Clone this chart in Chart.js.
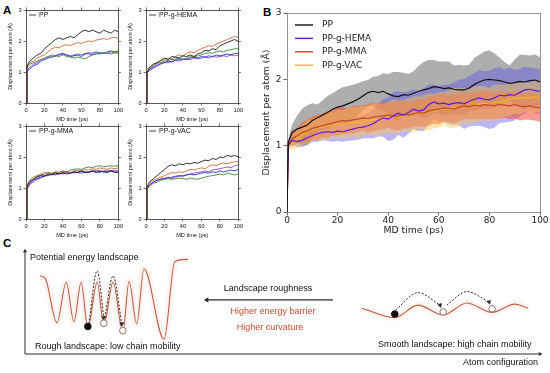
<!DOCTYPE html>
<html>
<head>
<meta charset="utf-8">
<script src="https://cdn.jsdelivr.net/npm/chart.js@4.4.0/dist/chart.umd.min.js"></script>
<style>
  body { margin: 0; width: 550px; height: 373px; background: #fff; position: relative; overflow: hidden; font-family: "Liberation Sans", Arial, sans-serif; }
  canvas { position: absolute; }
  .lbl { position: absolute; white-space: nowrap; color: #111; font-size: 9px; line-height: 10px; }
  .panel { position: absolute; font-weight: bold; font-size: 11.5px; line-height: 12px; color: #000; }
  .mid { transform: translateX(-50%); }
</style>
</head>
<body>
<div class="panel" style="left:3px;top:4px">A</div>
<div class="panel" style="left:263px;top:6px">B</div>
<div class="panel" style="left:3px;top:237px">C</div>

<canvas id="aPP" width="125" height="123" style="left:0;top:0"></canvas>
<canvas id="aHEMA" width="125" height="123" style="left:120px;top:0"></canvas>
<canvas id="aMMA" width="125" height="123" style="left:0;top:116px"></canvas>
<canvas id="aVAC" width="125" height="123" style="left:120px;top:116px"></canvas>
<canvas id="bChart" width="300" height="236" style="left:250px;top:0"></canvas>
<canvas id="cChart" width="550" height="137" style="left:0;top:236px"></canvas>

<div class="lbl" style="left:30px;top:252px">Potential energy landscape</div>
<div class="lbl" style="left:35px;top:341px">Rough landscape: low chain mobility</div>
<div class="lbl mid" style="left:268px;top:283px">Landscape roughness</div>
<div class="lbl mid" style="left:273px;top:306px;color:rgb(190,75,45)">Higher energy barrier</div>
<div class="lbl mid" style="left:270px;top:322px;color:rgb(190,75,45)">Higher curvature</div>
<div class="lbl" style="left:378px;top:339px">Smooth landscape: high chain mobility</div>
<div class="lbl" style="right:12px;top:357px">Atom configuration</div>

<script>
// ---- panel A: five runs per system, sampled in ps ----
const timeA = [0, 1, 2, 4, 8, 12, 16, 20, 24, 28, 32, 36, 40, 44, 48, 52, 56, 60, 64, 68, 72, 76, 80, 84, 88, 92, 96, 100];

const ppRun1 = [0, 1.15, 1.25, 1.35, 1.45, 1.55, 1.6, 1.75, 1.85, 1.95, 2.05, 2.1, 2.05, 2.1, 2.15, 2.1, 2.2, 2.3, 2.35, 2.3, 2.35, 2.3, 2.25, 2.35, 2.3, 2.25, 2.35, 2.3];
const ppRun2 = [0, 1.1, 1.2, 1.3, 1.35, 1.45, 1.5, 1.55, 1.65, 1.75, 1.8, 1.78, 1.85, 1.88, 1.85, 1.9, 1.95, 1.92, 1.97, 2.0, 1.98, 2.03, 2.05, 2.08, 2.05, 2.1, 2.12, 2.08];
const ppRun3 = [0, 1.1, 1.2, 1.25, 1.3, 1.35, 1.4, 1.45, 1.5, 1.48, 1.52, 1.5, 1.55, 1.5, 1.48, 1.45, 1.48, 1.45, 1.42, 1.5, 1.55, 1.58, 1.6, 1.62, 1.6, 1.65, 1.62, 1.65];
const ppRun4 = [0, 1.0, 1.05, 1.1, 1.2, 1.25, 1.35, 1.4, 1.45, 1.48, 1.52, 1.58, 1.6, 1.55, 1.5, 1.52, 1.55, 1.5, 1.58, 1.62, 1.6, 1.65, 1.62, 1.6, 1.65, 1.68, 1.65, 1.68];
const ppRun5 = [0, 1.05, 1.1, 1.15, 1.25, 1.3, 1.4, 1.45, 1.5, 1.55, 1.52, 1.55, 1.58, 1.55, 1.52, 1.55, 1.58, 1.55, 1.6, 1.58, 1.55, 1.6, 1.58, 1.62, 1.6, 1.58, 1.62, 1.6];

const hemaRun1 = [0, 1.0, 1.05, 1.15, 1.25, 1.3, 1.38, 1.45, 1.4, 1.5, 1.48, 1.45, 1.52, 1.5, 1.55, 1.5, 1.58, 1.62, 1.7, 1.68, 1.75, 1.72, 1.85, 1.9, 1.95, 2.0, 2.05, 1.98];
const hemaRun2 = [0, 1.0, 1.05, 1.15, 1.25, 1.3, 1.35, 1.4, 1.45, 1.42, 1.5, 1.55, 1.52, 1.6, 1.65, 1.62, 1.7, 1.75, 1.8, 1.85, 1.82, 1.9, 1.95, 2.0, 2.05, 2.1, 2.15, 2.12];
const hemaRun3 = [0, 1.0, 1.05, 1.1, 1.2, 1.28, 1.3, 1.35, 1.38, 1.4, 1.42, 1.45, 1.4, 1.45, 1.5, 1.48, 1.52, 1.55, 1.6, 1.62, 1.6, 1.65, 1.68, 1.65, 1.7, 1.72, 1.75, 1.75];
const hemaRun4 = [0, 0.95, 1.0, 1.1, 1.15, 1.22, 1.28, 1.3, 1.35, 1.32, 1.38, 1.4, 1.42, 1.4, 1.45, 1.48, 1.45, 1.5, 1.48, 1.52, 1.5, 1.55, 1.52, 1.55, 1.58, 1.55, 1.6, 1.6];
const hemaRun5 = [0, 0.95, 1.0, 1.05, 1.12, 1.2, 1.25, 1.3, 1.3, 1.35, 1.38, 1.35, 1.4, 1.42, 1.4, 1.45, 1.42, 1.45, 1.48, 1.45, 1.5, 1.48, 1.5, 1.52, 1.5, 1.55, 1.52, 1.55];

const mmaRun1 = [0, 1.0, 1.1, 1.2, 1.28, 1.35, 1.4, 1.38, 1.45, 1.42, 1.48, 1.45, 1.5, 1.45, 1.48, 1.52, 1.5, 1.55, 1.5, 1.52, 1.55, 1.5, 1.55, 1.52, 1.5, 1.55, 1.52, 1.5];
const mmaRun2 = [0, 1.05, 1.15, 1.25, 1.35, 1.4, 1.45, 1.5, 1.48, 1.45, 1.52, 1.5, 1.55, 1.52, 1.5, 1.55, 1.58, 1.55, 1.6, 1.58, 1.62, 1.6, 1.65, 1.62, 1.6, 1.65, 1.62, 1.65];
const mmaRun3 = [0, 1.0, 1.1, 1.2, 1.3, 1.38, 1.42, 1.45, 1.5, 1.48, 1.52, 1.5, 1.55, 1.52, 1.58, 1.6, 1.62, 1.6, 1.65, 1.68, 1.65, 1.7, 1.72, 1.68, 1.7, 1.72, 1.7, 1.72];
const mmaRun4 = [0, 0.95, 1.05, 1.15, 1.25, 1.3, 1.35, 1.4, 1.42, 1.45, 1.42, 1.48, 1.45, 1.5, 1.48, 1.52, 1.5, 1.48, 1.52, 1.5, 1.55, 1.52, 1.5, 1.55, 1.52, 1.55, 1.5, 1.52];
const mmaRun5 = [0, 0.95, 1.0, 1.1, 1.2, 1.28, 1.32, 1.38, 1.4, 1.45, 1.48, 1.45, 1.5, 1.52, 1.5, 1.48, 1.52, 1.55, 1.52, 1.5, 1.55, 1.58, 1.55, 1.52, 1.58, 1.55, 1.58, 1.55];

const vacRun1 = [0, 1.0, 1.1, 1.2, 1.3, 1.4, 1.5, 1.6, 1.7, 1.75, 1.72, 1.78, 1.75, 1.8, 1.78, 1.82, 1.8, 1.85, 1.9, 1.88, 1.95, 1.92, 2.0, 1.98, 2.05, 2.02, 2.05, 2.0];
const vacRun2 = [0, 1.0, 1.05, 1.15, 1.25, 1.3, 1.35, 1.4, 1.45, 1.5, 1.48, 1.52, 1.5, 1.55, 1.6, 1.58, 1.62, 1.65, 1.62, 1.7, 1.75, 1.72, 1.78, 1.8, 1.78, 1.82, 1.85, 1.85];
const vacRun3 = [0, 0.95, 1.0, 1.08, 1.15, 1.2, 1.25, 1.28, 1.3, 1.28, 1.3, 1.32, 1.3, 1.28, 1.32, 1.3, 1.28, 1.32, 1.35, 1.38, 1.4, 1.42, 1.45, 1.42, 1.48, 1.45, 1.42, 1.45];
const vacRun4 = [0, 0.95, 1.0, 1.1, 1.18, 1.25, 1.28, 1.3, 1.32, 1.35, 1.38, 1.4, 1.38, 1.42, 1.45, 1.42, 1.45, 1.48, 1.5, 1.48, 1.52, 1.5, 1.55, 1.52, 1.55, 1.58, 1.55, 1.6];
const vacRun5 = [0, 0.95, 1.0, 1.1, 1.2, 1.25, 1.3, 1.32, 1.35, 1.3, 1.35, 1.38, 1.4, 1.42, 1.45, 1.48, 1.5, 1.52, 1.55, 1.52, 1.58, 1.6, 1.62, 1.65, 1.68, 1.65, 1.72, 1.75];

// ---- panel B: mean and standard deviation per system ----
const timeB = [0, 0.5, 2, 4, 6, 8, 10, 12, 14, 16, 18, 20, 22, 24, 26, 28, 30, 32, 34, 36, 38, 40, 42, 44, 46, 48, 50, 52, 54, 56, 58, 60, 62, 64, 66, 68, 70, 72, 74, 76, 78, 80, 82, 84, 86, 88, 90, 92, 94, 96, 98, 100];

const ppMean = [0, 1.05, 1.2, 1.25, 1.28, 1.31, 1.38, 1.42, 1.46, 1.5, 1.55, 1.58, 1.6, 1.63, 1.66, 1.7, 1.75, 1.8, 1.82, 1.8, 1.82, 1.78, 1.75, 1.74, 1.77, 1.76, 1.79, 1.82, 1.84, 1.86, 1.89, 1.88, 1.86, 1.87, 1.85, 1.84, 1.84, 1.87, 1.92, 1.96, 1.99, 2.0, 1.99, 1.98, 1.96, 1.94, 1.95, 1.97, 1.96, 1.98, 1.99, 1.96];
const ppSd = [0, 0.05, 0.12, 0.2, 0.28, 0.3, 0.26, 0.2, 0.22, 0.25, 0.24, 0.26, 0.28, 0.27, 0.26, 0.24, 0.22, 0.19, 0.22, 0.25, 0.27, 0.3, 0.36, 0.37, 0.33, 0.32, 0.33, 0.38, 0.42, 0.43, 0.4, 0.39, 0.41, 0.4, 0.36, 0.38, 0.37, 0.35, 0.4, 0.41, 0.43, 0.44, 0.4, 0.35, 0.3, 0.27, 0.35, 0.4, 0.41, 0.38, 0.39, 0.37];

const hemaMean = [0, 1.0, 1.08, 1.06, 1.08, 1.12, 1.15, 1.18, 1.2, 1.21, 1.2, 1.22, 1.21, 1.23, 1.25, 1.27, 1.28, 1.3, 1.33, 1.38, 1.42, 1.4, 1.45, 1.49, 1.46, 1.5, 1.55, 1.52, 1.54, 1.62, 1.66, 1.63, 1.64, 1.62, 1.64, 1.65, 1.63, 1.67, 1.7, 1.72, 1.7, 1.69, 1.72, 1.76, 1.75, 1.77, 1.76, 1.8, 1.84, 1.85, 1.83, 1.82];
const hemaSd = [0, 0.03, 0.07, 0.08, 0.1, 0.11, 0.1, 0.12, 0.12, 0.14, 0.14, 0.15, 0.15, 0.16, 0.17, 0.18, 0.17, 0.19, 0.22, 0.24, 0.28, 0.33, 0.36, 0.33, 0.34, 0.32, 0.3, 0.3, 0.32, 0.3, 0.26, 0.27, 0.28, 0.3, 0.32, 0.34, 0.38, 0.38, 0.4, 0.42, 0.42, 0.44, 0.45, 0.42, 0.4, 0.41, 0.38, 0.36, 0.35, 0.33, 0.34, 0.33];

const mmaMean = [0, 1.02, 1.1, 1.15, 1.2, 1.22, 1.26, 1.28, 1.3, 1.32, 1.34, 1.36, 1.38, 1.37, 1.39, 1.4, 1.42, 1.41, 1.43, 1.44, 1.45, 1.46, 1.44, 1.45, 1.47, 1.46, 1.48, 1.5, 1.49, 1.52, 1.54, 1.55, 1.57, 1.56, 1.55, 1.58, 1.6, 1.59, 1.61, 1.6, 1.62, 1.61, 1.6, 1.62, 1.61, 1.6, 1.62, 1.6, 1.59, 1.6, 1.58, 1.57];
const mmaSd = [0, 0.04, 0.1, 0.12, 0.15, 0.17, 0.18, 0.19, 0.18, 0.2, 0.19, 0.21, 0.2, 0.19, 0.21, 0.2, 0.19, 0.21, 0.22, 0.2, 0.21, 0.19, 0.2, 0.22, 0.21, 0.2, 0.19, 0.21, 0.2, 0.22, 0.21, 0.23, 0.21, 0.2, 0.22, 0.21, 0.2, 0.19, 0.21, 0.2, 0.22, 0.21, 0.2, 0.21, 0.19, 0.2, 0.21, 0.22, 0.2, 0.21, 0.2, 0.21];

const vacMean = [0, 0.98, 1.05, 1.1, 1.16, 1.2, 1.24, 1.27, 1.28, 1.3, 1.31, 1.33, 1.32, 1.34, 1.36, 1.35, 1.37, 1.38, 1.4, 1.39, 1.41, 1.42, 1.44, 1.43, 1.45, 1.46, 1.47, 1.49, 1.5, 1.51, 1.52, 1.54, 1.56, 1.55, 1.57, 1.58, 1.6, 1.59, 1.62, 1.63, 1.64, 1.62, 1.65, 1.66, 1.68, 1.7, 1.72, 1.71, 1.73, 1.72, 1.74, 1.73];
const vacSd = [0, 0.04, 0.1, 0.14, 0.16, 0.18, 0.17, 0.19, 0.2, 0.21, 0.2, 0.22, 0.21, 0.23, 0.22, 0.24, 0.23, 0.22, 0.24, 0.25, 0.23, 0.24, 0.26, 0.25, 0.24, 0.26, 0.27, 0.25, 0.26, 0.28, 0.26, 0.27, 0.25, 0.28, 0.3, 0.29, 0.27, 0.26, 0.28, 0.27, 0.26, 0.25, 0.27, 0.26, 0.24, 0.25, 0.23, 0.24, 0.22, 0.23, 0.24, 0.22];

const namesB = ["PP", "PP-g-HEMA", "PP-g-MMA", "PP-g-VAC"];

// ---- panel C: schematic landscapes (configuration, energy) ----
const roughX = [2.9, 3.9, 6.2, 8.0, 9.5, 10.9, 12.2, 14.0, 15.3, 17.1, 19.0, 20.2, 21.7, 23.1, 27.0, 29.1, 31.7];
const roughE = [7.5, 7.3, 3.0, 6.9, 3.1, 6.9, 2.5, 6.9, 2.8, 6.9, 2.1, 7.0, 2.9, 8.2, 1.4, 8.9, 9.1];
const smoothX = [65.4, 71.8, 76.3, 81.2, 85.8, 90.7, 95.1, 97.7];
const smoothE = [4.4, 3.5, 4.7, 3.75, 4.9, 4.0, 4.8, 4.4];
const roughBallX = [12.2, 15.3, 19.0];
const roughBallE = [2.65, 2.95, 2.25];
const smoothBallX = [71.8, 81.2, 90.7];
const smoothBallE = [3.85, 4.05, 4.35];
const hop1X = [12.4, 14.0, 15.3], hop1E = [2.9, 8.0, 3.5];
const hop2X = [15.5, 17.1, 18.8], hop2E = [3.5, 7.5, 2.9];
const hop3X = [72.0, 76.3, 80.6], hop3E = [4.25, 5.9, 4.7];
const hop4X = [81.9, 85.8, 90.1], hop4E = [4.7, 6.0, 5.0];
const roughnessX = [35.3, 59.8], roughnessE = [5.2, 5.2];

// ---- styles ----
const FA = '"Liberation Sans", Arial, sans-serif';
const FB = '"DejaVu Sans", sans-serif';
const runColors = ["#1a1a1a", "rgb(205,105,60)", "rgb(60,135,50)", "rgb(45,45,215)", "rgb(140,70,200)"];
const lineColorsB = ["#111", "rgb(95,25,215)", "rgb(200,70,40)", "rgb(235,185,30)"];
const bandColorsB = ["rgba(120,120,120,0.6)", "rgba(90,80,235,0.42)", "rgba(245,70,55,0.55)", "rgba(250,200,80,0.45)"];

const pts = (xs, ys) => ys.map((v, i) => ({ x: xs[i], y: v }));

// small legend drawn inside the plot area
const insideLegend = {
  id: "insideLegend",
  afterDatasetsDraw(chart, args, opts) {
    const { ctx, chartArea } = chart;
    ctx.save();
    ctx.font = opts.font;
    ctx.textBaseline = "middle";
    opts.items.forEach((item, i) => {
      const y = chartArea.top + opts.top + i * opts.gap;
      const x0 = chartArea.left + opts.left;
      ctx.strokeStyle = item.color;
      ctx.lineWidth = opts.lineWidth;
      ctx.beginPath();
      ctx.moveTo(x0, y);
      ctx.lineTo(x0 + opts.len, y);
      ctx.stroke();
      ctx.fillStyle = opts.textColor;
      ctx.fillText(item.text, x0 + opts.len + opts.textGap, y);
    });
    ctx.restore();
  },
};

const makeSmall = (id, name, runs) => {
  const datasets = runs.map((run, i) => ({
    data: pts(timeA, run),
    borderColor: runColors[i],
    borderWidth: 0.9,
    pointRadius: 0,
  }));
  const font = { family: FA, size: 5.6 };
  const edge = { color: "#111", width: 0.7 };
  const marks = { drawOnChartArea: false, tickLength: 2.5, color: "#111", lineWidth: 0.6 };
  // eslint-disable-next-line no-undef
  return new Chart(document.getElementById(id), {
    type: "line",
    data: { datasets },
    plugins: [insideLegend],
    options: {
      responsive: false,
      animation: false,
      events: [],
      layout: { padding: { left: 7 } },
      scales: {
        x: {
          type: "linear", position: "bottom", min: 0, max: 100,
          ticks: { stepSize: 20, autoSkip: false, maxRotation: 0, font, color: "#111", padding: 2 },
          grid: marks, border: edge,
          title: { display: true, text: "MD time (ps)", font, color: "#111", padding: 0 },
          afterFit: (s) => { s.height = 20; },
        },
        y: {
          type: "linear", position: "left", min: 0, max: 3,
          ticks: { stepSize: 1, font, color: "#111", padding: 2 },
          grid: marks, border: edge,
          title: { display: true, text: "Displacement per atom (Å)", font, color: "#111", padding: 0 },
          afterFit: (s) => { s.width = 19; },
        },
        x2: {
          type: "linear", position: "top", min: 0, max: 100,
          ticks: { stepSize: 20, display: false }, grid: marks, border: edge,
          afterFit: (s) => { s.height = 10; },
        },
        y2: {
          type: "linear", position: "right", min: 0, max: 3,
          ticks: { stepSize: 1, display: false }, grid: marks, border: edge,
          afterFit: (s) => { s.width = 6; },
        },
      },
      plugins: {
        legend: { display: false },
        tooltip: { enabled: false },
        insideLegend: {
          items: [{ text: name, color: "#111" }],
          font: `7px ${FA}`, left: 3, top: 5, gap: 0, len: 7, textGap: 3, lineWidth: 0.8, textColor: "#111",
        },
      },
    },
  });
};

makeSmall("aPP", "PP", [ppRun1, ppRun2, ppRun3, ppRun4, ppRun5]);
makeSmall("aHEMA", "PP-g-HEMA", [hemaRun1, hemaRun2, hemaRun3, hemaRun4, hemaRun5]);
makeSmall("aMMA", "PP-g-MMA", [mmaRun1, mmaRun2, mmaRun3, mmaRun4, mmaRun5]);
makeSmall("aVAC", "PP-g-VAC", [vacRun1, vacRun2, vacRun3, vacRun4, vacRun5]);

// ---- panel B ----
const meansB = [ppMean, hemaMean, mmaMean, vacMean];
const sdsB = [ppSd, hemaSd, mmaSd, vacSd];

const lineSets = meansB.map((m, i) => ({
  data: pts(timeB, m),
  borderColor: lineColorsB[i],
  borderWidth: 1.2,
  pointRadius: 0,
}));
const bandSets = [];
[3, 2, 1, 0].forEach((i) => {
  bandSets.push({
    data: meansB[i].map((m, j) => ({ x: timeB[j], y: m - sdsB[i][j] })),
    borderWidth: 0, pointRadius: 0, fill: false,
  });
  bandSets.push({
    data: meansB[i].map((m, j) => ({ x: timeB[j], y: m + sdsB[i][j] })),
    borderWidth: 0, pointRadius: 0, fill: "-1", backgroundColor: bandColorsB[i],
  });
});

const fontB = { family: FB, size: 9 };
const edgeB = { color: "#777", width: 0.8 };
const marksB = { drawOnChartArea: false, tickLength: 3.5, color: "#444", lineWidth: 0.8 };
// eslint-disable-next-line no-undef
new Chart(document.getElementById("bChart"), {
  type: "line",
  data: { datasets: [...lineSets, ...bandSets] },
  plugins: [insideLegend],
  options: {
    responsive: false,
    animation: false,
    events: [],
    layout: { padding: { left: 11 } },
    scales: {
      x: {
        type: "linear", position: "bottom", min: 0, max: 100,
        ticks: { stepSize: 20, autoSkip: false, maxRotation: 0, font: fontB, color: "#222", padding: 0 },
        grid: marksB, border: edgeB,
        title: { display: true, text: "MD time (ps)", font: { family: FB, size: 9.3 }, color: "#222", padding: 0 },
        afterFit: (s) => { s.height = 24; },
      },
      y: {
        type: "linear", position: "left", min: 0, max: 3,
        ticks: { stepSize: 1, font: fontB, color: "#222", padding: 2 },
        grid: marksB, border: edgeB,
        title: { display: true, text: "Displacement per atom (Å)", font: { family: FB, size: 9.3 }, color: "#222", padding: 0 },
        afterFit: (s) => { s.width = 26; },
      },
      x2: {
        type: "linear", position: "top", min: 0, max: 100,
        ticks: { display: false }, grid: { display: false }, border: edgeB,
        afterFit: (s) => { s.height = 13; },
      },
      y2: {
        type: "linear", position: "right", min: 0, max: 3,
        ticks: { display: false }, grid: { display: false }, border: edgeB,
        afterFit: (s) => { s.width = 10; },
      },
    },
    plugins: {
      legend: { display: false },
      tooltip: { enabled: false },
      insideLegend: {
        items: namesB.map((n, i) => ({ text: n, color: lineColorsB[i] })),
        font: `9px ${FB}`, left: 8, top: 12, gap: 13.4, len: 18, textGap: 9, lineWidth: 1.4, textColor: "#222",
      },
    },
  },
});

// ---- panel C ----
const curve = "rgb(185,95,65)";
const glow = "rgba(250,200,200,0.22)";
const dark = "#2a2a2a";
const hop = (xs, es, rot) => ({
  data: pts(xs, es),
  borderColor: dark, borderWidth: 1, borderDash: [2, 1.6],
  cubicInterpolationMode: "monotone",
  pointStyle: "triangle", pointRadius: [0, 0, 2.4], pointRotation: [0, 0, rot],
  pointBackgroundColor: dark, pointBorderColor: dark, pointBorderWidth: 0.5,
  clip: false,
});
const balls = (xs, es) => ({
  data: pts(xs, es),
  showLine: false, clip: false,
  pointRadius: 3.3,
  pointBackgroundColor: ["#111", "#fff", "#fff"],
  pointBorderColor: ["#111", "#8a7a70", "#8a7a70"],
  pointBorderWidth: 1,
});
// eslint-disable-next-line no-undef
new Chart(document.getElementById("cChart"), {
  type: "line",
  data: {
    datasets: [
      balls(roughBallX, roughBallE),
      balls(smoothBallX, smoothBallE),
      hop(hop1X, hop1E, 180),
      hop(hop2X, hop2E, 180),
      hop(hop3X, hop3E, 160),
      hop(hop4X, hop4E, 160),
      {
        data: pts(roughnessX, roughnessE),
        borderColor: dark, borderWidth: 1.2,
        pointStyle: "triangle", pointRadius: [3, 0], pointRotation: [270, 0],
        pointBackgroundColor: dark, pointBorderWidth: 0, clip: false,
      },
      {
        data: [{ x: 0, y: 0 }, { x: 0, y: 9.9 }],
        borderColor: dark, borderWidth: 1,
        pointStyle: "triangle", pointRadius: [0, 2.4], pointRotation: [0, 0],
        pointBackgroundColor: dark, pointBorderWidth: 0, clip: false,
      },
      {
        data: [{ x: 0, y: 0 }, { x: 100, y: 0 }],
        borderColor: dark, borderWidth: 1,
        pointStyle: "triangle", pointRadius: [0, 2.4], pointRotation: [0, 90],
        pointBackgroundColor: dark, pointBorderWidth: 0, clip: false,
      },
      { data: pts(roughX, roughE), borderColor: curve, borderWidth: 1.1, pointRadius: 0, cubicInterpolationMode: "monotone", clip: false },
      { data: pts(smoothX, smoothE), borderColor: curve, borderWidth: 1.1, pointRadius: 0, cubicInterpolationMode: "monotone", clip: false },
      { data: pts(roughX, roughE), borderColor: glow, borderWidth: 7, pointRadius: 0, cubicInterpolationMode: "monotone", clip: false },
      { data: pts(smoothX, smoothE), borderColor: glow, borderWidth: 7, pointRadius: 0, cubicInterpolationMode: "monotone", clip: false },
    ],
  },
  options: {
    responsive: false,
    animation: false,
    events: [],
    layout: { padding: { left: 25, right: 10, top: 14, bottom: 19 } },
    scales: {
      x: { type: "linear", display: false, min: 0, max: 100 },
      y: { type: "linear", display: false, min: 0, max: 10 },
    },
    plugins: { legend: { display: false }, tooltip: { enabled: false } },
  },
});
</script>
</body>
</html>
